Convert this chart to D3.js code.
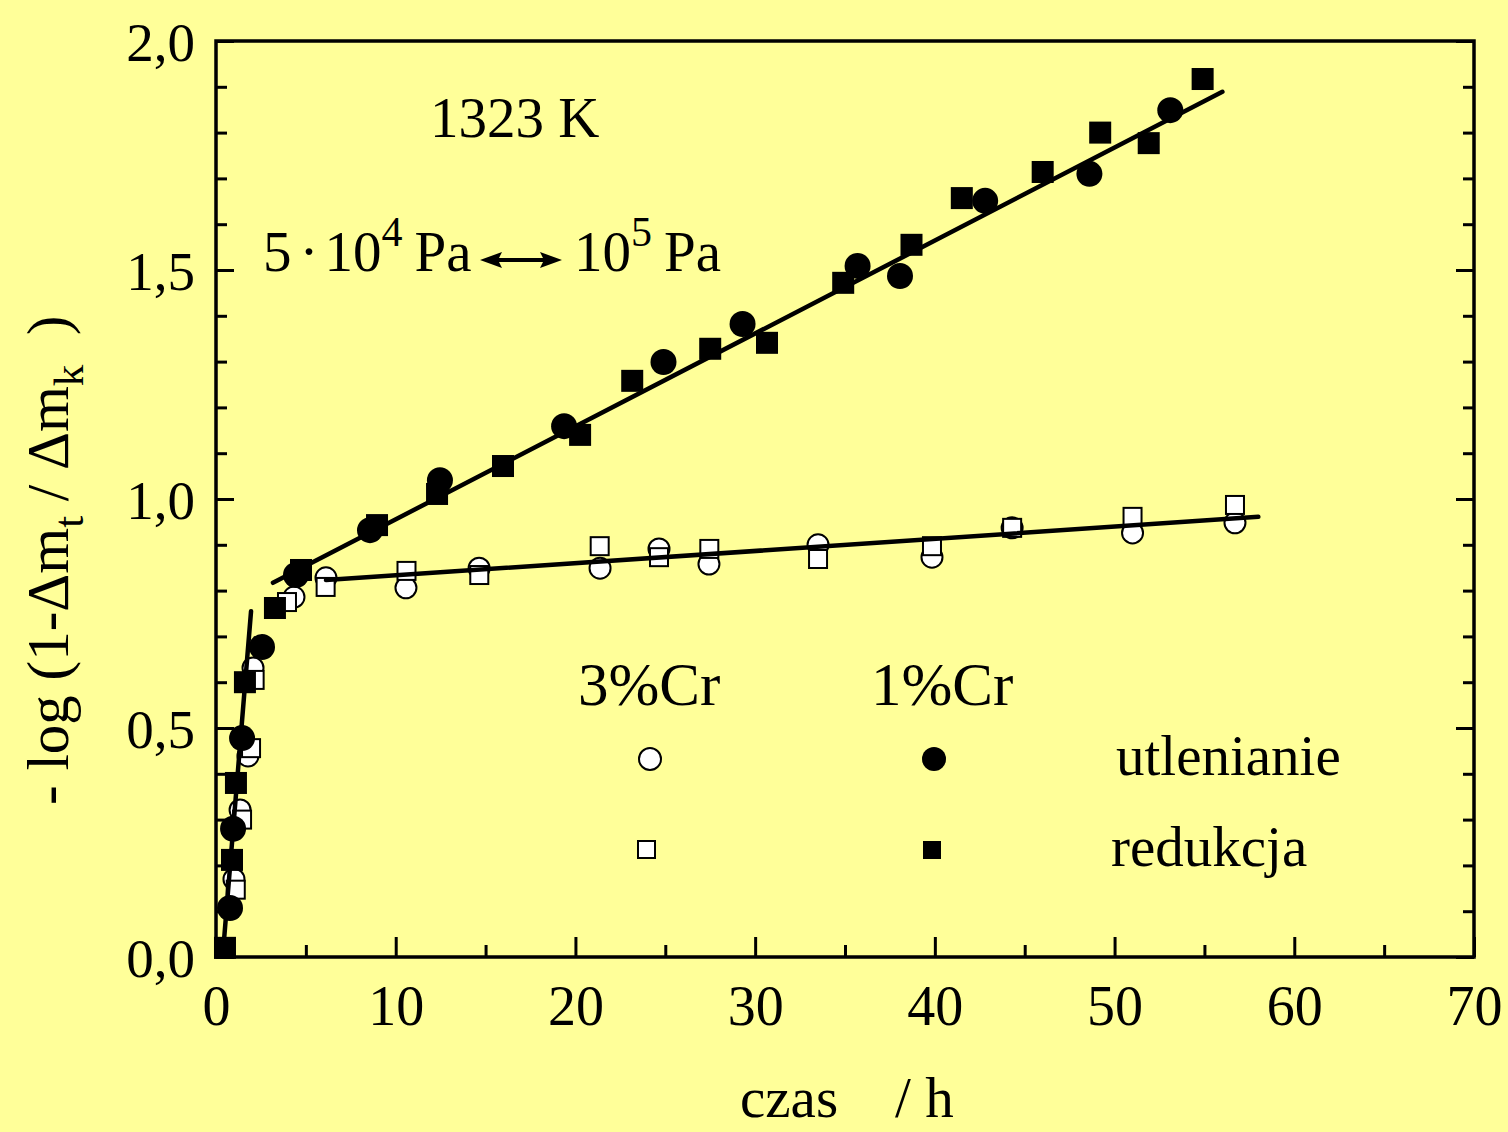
<!DOCTYPE html>
<html>
<head>
<meta charset="utf-8">
<script src="https://cdn.jsdelivr.net/npm/d3@7"></script>
<style>
  html, body { margin: 0; padding: 0; background: #FFFF99; }
  svg { display: block; }
  text { font-family: "Liberation Serif", "Times New Roman", serif; fill: #000; }
</style>
</head>
<body>
<svg id="chart" width="1508" height="1132"></svg>
<script>
// czas / h  and  -log(1 - Δm_t/Δm_k) for 1% and 3% Cr steels at 1323 K
const cr1OxT = [0.78, 0.95, 1.45, 2.56, 4.45, 8.57, 12.46, 19.37, 24.9, 29.3, 35.7, 38.06, 42.8, 48.6, 53.1];
const cr1OxV = [0.107, 0.28, 0.478, 0.677, 0.834, 0.932, 1.041, 1.159, 1.299, 1.382, 1.509, 1.487, 1.651, 1.710, 1.849];

const cr1RedT = [0.5, 0.89, 1.11, 1.61, 3.28, 4.73, 8.96, 12.3, 15.97, 20.26, 23.16, 27.5, 30.66, 34.9, 38.7, 41.5, 46.0, 49.2, 51.9, 54.9];
const cr1RedV = [0.02, 0.212, 0.38, 0.60, 0.762, 0.845, 0.943, 1.011, 1.072, 1.14, 1.258, 1.328, 1.341, 1.472, 1.555, 1.657, 1.714, 1.80, 1.777, 1.917];

const cr3OxT = [1.0, 1.34, 1.78, 2.06, 4.34, 6.12, 10.57, 14.64, 21.37, 24.65, 27.43, 33.5, 39.84, 44.3, 51.0, 56.7];
const cr3OxV = [0.170, 0.321, 0.439, 0.631, 0.786, 0.828, 0.806, 0.849, 0.849, 0.891, 0.858, 0.90, 0.873, 0.937, 0.926, 0.948];

const cr3RedT = [1.1, 1.45, 1.95, 2.15, 3.95, 6.1, 10.6, 14.65, 21.35, 24.65, 27.45, 33.5, 39.84, 44.3, 51.0, 56.7];
const cr3RedV = [0.147, 0.30, 0.456, 0.605, 0.775, 0.808, 0.843, 0.834, 0.897, 0.873, 0.891, 0.869, 0.897, 0.937, 0.961, 0.987];

// fitted straight segments: [t, value] end points
const fitInitial = [[0.39, 0.01], [1.95, 0.755]];
const fitCr1 = [[3.17, 0.817], [56.0, 1.889]];
const fitCr3 = [[6.12, 0.823], [58.0, 0.961]];

const xMajorTicks = [0, 10, 20, 30, 40, 50, 60, 70];
const xMinorTicks = [5, 15, 25, 35, 45, 55, 65];
const yMajorTicks = [0, 0.5, 1.0, 1.5, 2.0];
const yMinorTicks = [0.1, 0.2, 0.3, 0.4, 0.6, 0.7, 0.8, 0.9, 1.1, 1.2, 1.3, 1.4, 1.6, 1.7, 1.8, 1.9];

const svg = d3.select("#chart");
const plotLeft = 216, plotRight = 1474, plotTop = 41, plotBottom = 957;

const x = d3.scaleLinear().domain([0, 70]).range([plotLeft, plotRight]);
const y = d3.scaleLinear().domain([0, 2]).range([plotBottom, plotTop]);
const fmt = v => d3.format(".1f")(v).replace(".", ",");

svg.append("rect").attr("width", 1508).attr("height", 1132).attr("fill", "#FFFF99");

// ---- axes ----
const axisG = svg.append("g");
function styleAxis(g) {
  g.select(".domain").remove();
  g.selectAll("line").attr("stroke", "#000").attr("stroke-width", 3);
}
// bottom major + minor (ticks inward)
axisG.append("g").attr("transform", `translate(0,${plotBottom})`)
  .call(d3.axisBottom(x).tickValues(xMajorTicks).tickSizeInner(-20).tickSizeOuter(0).tickFormat(d => d))
  .call(styleAxis)
  .call(g => g.selectAll("text").attr("y", 28).attr("dy", "0.71em").attr("font-size", 56)
    .style("font-family", "Liberation Serif"));
axisG.append("g").attr("transform", `translate(0,${plotBottom})`)
  .call(d3.axisBottom(x).tickValues(xMinorTicks).tickSizeInner(-12).tickSizeOuter(0).tickFormat(""))
  .call(styleAxis);
// left major + minor
axisG.append("g").attr("transform", `translate(${plotLeft},0)`)
  .call(d3.axisLeft(y).tickValues(yMajorTicks).tickSizeInner(-18).tickSizeOuter(0).tickFormat(fmt))
  .call(styleAxis)
  .call(g => g.selectAll("text").attr("x", -21).attr("dy", "0.35em").attr("font-size", 55)
    .style("font-family", "Liberation Serif"));
axisG.append("g").attr("transform", `translate(${plotLeft},0)`)
  .call(d3.axisLeft(y).tickValues(yMinorTicks).tickSizeInner(-11).tickSizeOuter(0).tickFormat(""))
  .call(styleAxis);
// right major + minor
axisG.append("g").attr("transform", `translate(${plotRight},0)`)
  .call(d3.axisRight(y).tickValues(yMajorTicks).tickSizeInner(-18).tickSizeOuter(0).tickFormat(""))
  .call(styleAxis);
axisG.append("g").attr("transform", `translate(${plotRight},0)`)
  .call(d3.axisRight(y).tickValues(yMinorTicks).tickSizeInner(-11).tickSizeOuter(0).tickFormat(""))
  .call(styleAxis);
// frame
svg.append("rect").attr("x", plotLeft).attr("y", plotTop).attr("width", plotRight - plotLeft).attr("height", plotBottom - plotTop)
  .attr("fill", "none").attr("stroke", "#000").attr("stroke-width", 3.5);

// ---- markers ----
const plot = svg.append("g");
function pts(ts, vs) { return ts.map((t, i) => ({ t, v: vs[i] })); }

plot.selectAll(".o3").data(pts(cr3OxT, cr3OxV)).join("circle")
  .attr("cx", d => x(d.t)).attr("cy", d => y(d.v)).attr("r", 10.5)
  .attr("fill", "#fff").attr("stroke", "#000").attr("stroke-width", 2);
plot.selectAll(".s3").data(pts(cr3RedT, cr3RedV)).join("rect")
  .attr("x", d => x(d.t) - 9).attr("y", d => y(d.v) - 9).attr("width", 18).attr("height", 18)
  .attr("fill", "#fff").attr("stroke", "#000").attr("stroke-width", 2);
plot.selectAll(".o1").data(pts(cr1OxT, cr1OxV)).join("circle")
  .attr("cx", d => x(d.t)).attr("cy", d => y(d.v)).attr("r", 13)
  .attr("fill", "#000");
plot.selectAll(".s1").data(pts(cr1RedT, cr1RedV)).join("rect")
  .attr("x", d => x(d.t) - 11).attr("y", d => y(d.v) - 11).attr("width", 22).attr("height", 22)
  .attr("fill", "#000");

// ---- fitted lines ----
const line = d3.line().x(d => x(d[0])).y(d => y(d[1]));
[fitInitial, fitCr1, fitCr3].forEach(seg => {
  plot.append("path").attr("d", line(seg)).attr("fill", "none")
    .attr("stroke", "#000").attr("stroke-width", 4.5).attr("stroke-linecap", "round");
});

// ---- annotations ----
svg.append("text").attr("x", 430).attr("y", 137).attr("font-size", 57).text("1323 K");

const pa = svg.append("text").attr("x", 263).attr("y", 271).attr("font-size", 57);
pa.append("tspan").text("5");
pa.append("tspan").attr("dx", 8).text("·");
pa.append("tspan").attr("dx", 6).text("10");
pa.append("tspan").attr("dy", -25).attr("font-size", 42).text("4");
pa.append("tspan").attr("dy", 25).attr("dx", 12).text("Pa");

const pa2 = svg.append("text").attr("x", 574).attr("y", 271).attr("font-size", 57);
pa2.append("tspan").text("10");
pa2.append("tspan").attr("dy", -25).attr("font-size", 42).text("5");
pa2.append("tspan").attr("dy", 25).attr("dx", 12).text("Pa");

// double-headed arrow: shaft plus two filled heads
const arrowY = 260;
svg.append("line").attr("x1", 492).attr("y1", arrowY).attr("x2", 550).attr("y2", arrowY)
  .attr("stroke", "#000").attr("stroke-width", 4);
svg.append("path").attr("d", `M480,${arrowY} L502,${arrowY - 8} L498,${arrowY} L502,${arrowY + 8} Z`).attr("fill", "#000");
svg.append("path").attr("d", `M562,${arrowY} L540,${arrowY - 8} L544,${arrowY} L540,${arrowY + 8} Z`).attr("fill", "#000");

// ---- legend ----
svg.append("text").attr("x", 578).attr("y", 705).attr("font-size", 61).text("3%Cr");
svg.append("text").attr("x", 871).attr("y", 705).attr("font-size", 61).text("1%Cr");
svg.append("text").attr("x", 1116).attr("y", 775).attr("font-size", 57).text("utlenianie");
svg.append("text").attr("x", 1111).attr("y", 866).attr("font-size", 57).text("redukcja");
svg.append("circle").attr("cx", 650).attr("cy", 759).attr("r", 11)
  .attr("fill", "#fff").attr("stroke", "#000").attr("stroke-width", 2);
svg.append("circle").attr("cx", 934).attr("cy", 759).attr("r", 12).attr("fill", "#000");
svg.append("rect").attr("x", 638).attr("y", 841).attr("width", 17).attr("height", 17)
  .attr("fill", "#fff").attr("stroke", "#000").attr("stroke-width", 2);
svg.append("rect").attr("x", 923).attr("y", 841).attr("width", 18).attr("height", 18).attr("fill", "#000");

// ---- axis titles ----
svg.append("text").attr("x", 740).attr("y", 1117).attr("font-size", 57)
  .attr("xml:space", "preserve").style("white-space", "pre").text("czas    / h");

const yt = svg.append("text").attr("transform", "translate(68,805) rotate(-90)")
  .attr("font-size", 59).style("white-space", "pre");
yt.append("tspan").text("- log (1-Δm");
yt.append("tspan").attr("dy", 15).attr("font-size", 43).text("t");
yt.append("tspan").attr("dy", -15).text(" / Δm");
yt.append("tspan").attr("dy", 15).attr("font-size", 43).text("k");
yt.append("tspan").attr("dy", -15).text("  )");
</script>
</body>
</html>
